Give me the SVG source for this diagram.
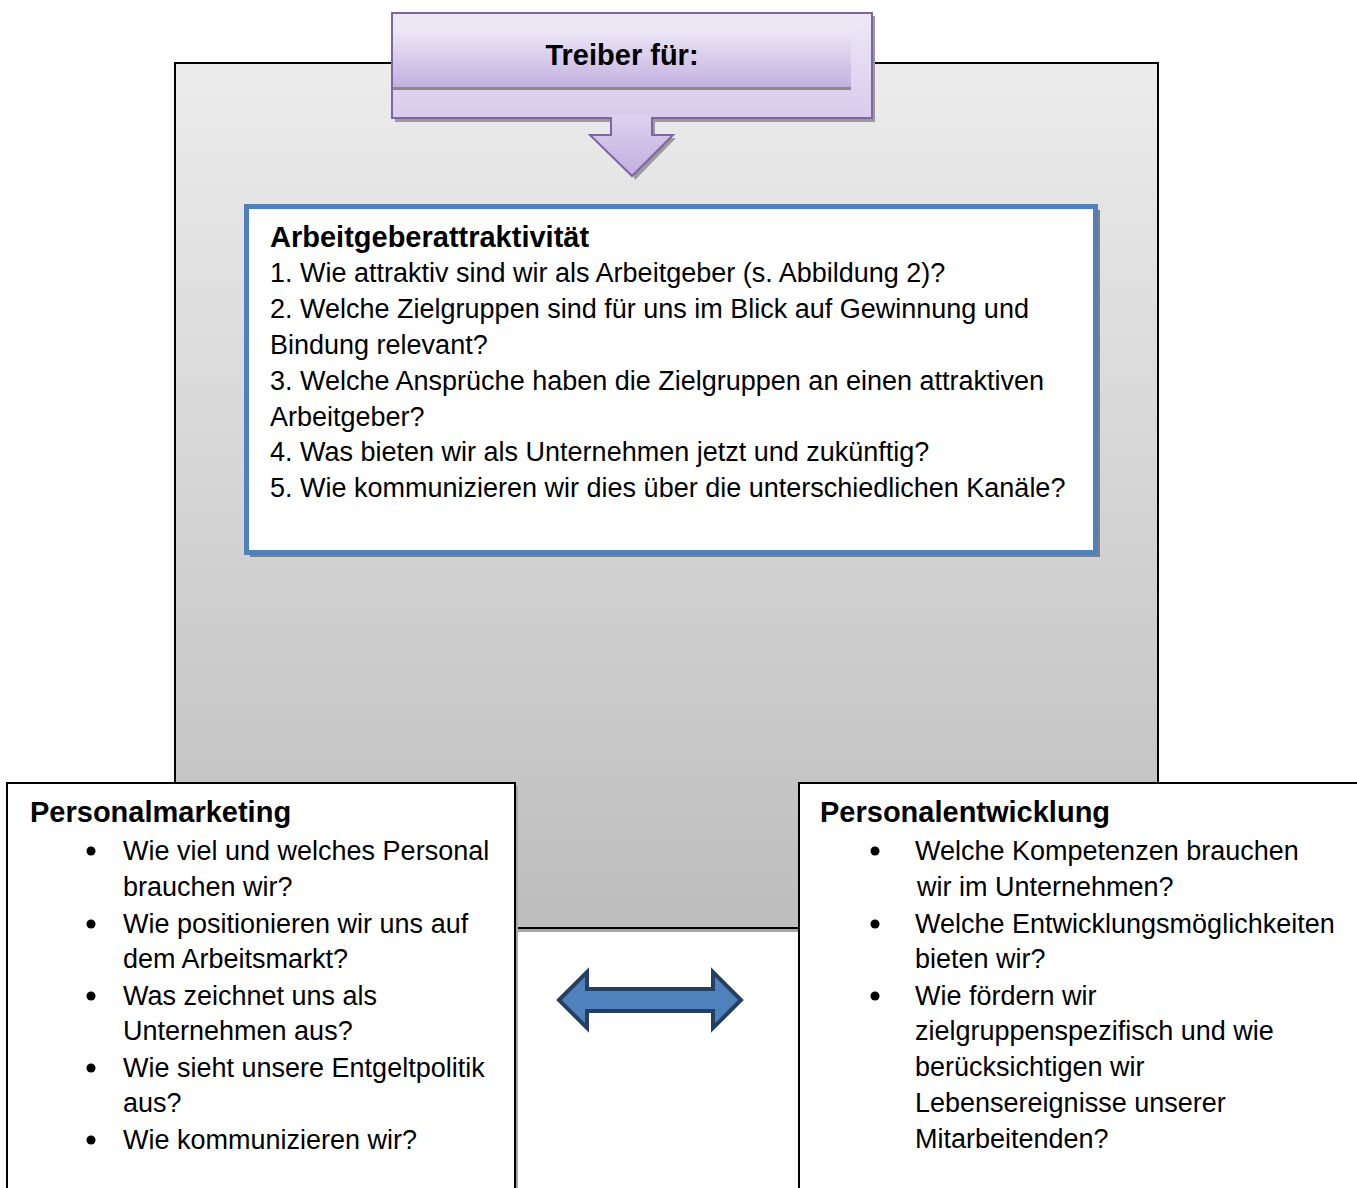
<svg xmlns="http://www.w3.org/2000/svg" width="1357" height="1188" viewBox="0 0 1357 1188">
<defs>
<linearGradient id="grayBg" x1="0" y1="0" x2="0" y2="1">
<stop offset="0" stop-color="#ececec"/>
<stop offset="1" stop-color="#bdbdbd"/>
</linearGradient>
<linearGradient id="purpleBand" x1="0" y1="0" x2="0" y2="1">
<stop offset="0" stop-color="#efeaf7"/>
<stop offset="1" stop-color="#c3b0e0"/>
</linearGradient>
<linearGradient id="purpleBox" x1="0" y1="0" x2="0" y2="1">
<stop offset="0" stop-color="#eee9f6"/>
<stop offset="1" stop-color="#d8cbec"/>
</linearGradient>
<linearGradient id="purpleArrow" x1="0" y1="0" x2="0" y2="1">
<stop offset="0" stop-color="#dcd0ee"/>
<stop offset="1" stop-color="#c2aee0"/>
</linearGradient>
</defs>
<style>
text{font-family:"Liberation Sans",Arial,sans-serif;font-size:27px;fill:#000}
.b{font-weight:bold;font-size:29px}
.frame{fill:#fff;stroke:#000;stroke-width:2}
.shadow{fill:#a6a6a6}
.dot{fill:#000}
</style>
<rect width="1357" height="1188" fill="#fff"/>

<g id="background-panel">
<rect x="175" y="928" width="986" height="4" class="shadow"/>
<rect x="175" y="63" width="983" height="865" fill="url(#grayBg)" stroke="#000" stroke-width="2"/>
</g>

<g id="treiber-callout">
<rect x="395" y="16" width="480" height="106" fill="#9a9a9a"/>
<polygon points="614,122 655,122 655,138 676,138 635,180" fill="#9a9a9a"/>
<rect x="392" y="13" width="480" height="105" fill="url(#purpleBox)" stroke="#8064a2" stroke-width="2"/>
<rect x="393" y="27" width="458" height="60" fill="url(#purpleBand)"/>
<rect x="393" y="87" width="458" height="3" fill="#8a8a8a"/>
<polygon points="611,118 652,118 652,135 673,135 632,176 590,135 611,135" fill="url(#purpleArrow)" stroke="#8064a2" stroke-width="2"/>
<rect x="612" y="115" width="39" height="5" fill="#dcd0ee"/>
<text x="622" y="65" class="b" text-anchor="middle">Treiber für:</text>
</g>

<g id="arbeitgeberattraktivitaet">
<rect x="250" y="210" width="850" height="347" fill="#7f7f7f"/>
<rect x="246.5" y="206.5" width="849" height="346" fill="#fff" stroke="#4f81bd" stroke-width="5"/>
<text x="270" y="247" class="b">Arbeitgeberattraktivität</text>
<text x="270" y="282">1. Wie attraktiv sind wir als Arbeitgeber (s. Abbildung 2)?</text>
<text x="270" y="318">2. Welche Zielgruppen sind für uns im Blick auf Gewinnung und</text>
<text x="270" y="354">Bindung relevant?</text>
<text x="270" y="390">3. Welche Ansprüche haben die Zielgruppen an einen attraktiven</text>
<text x="270" y="426">Arbeitgeber?</text>
<text x="270" y="461">4. Was bieten wir als Unternehmen jetzt und zukünftig?</text>
<text x="270" y="497">5. Wie kommunizieren wir dies über die unterschiedlichen Kanäle?</text>
</g>

<g id="personalmarketing">
<rect x="10" y="786" width="508" height="410" class="shadow"/>
<rect x="7" y="783" width="508" height="410" class="frame"/>
<text x="30" y="822" class="b">Personalmarketing</text>
<circle cx="91" cy="851" r="4.5" class="dot"/>
<text x="123" y="860">Wie viel und welches Personal</text>
<text x="123" y="896">brauchen wir?</text>
<circle cx="91" cy="924" r="4.5" class="dot"/>
<text x="123" y="933">Wie positionieren wir uns auf</text>
<text x="123" y="968">dem Arbeitsmarkt?</text>
<circle cx="91" cy="996" r="4.5" class="dot"/>
<text x="123" y="1005">Was zeichnet uns als</text>
<text x="123" y="1040">Unternehmen aus?</text>
<circle cx="91" cy="1068" r="4.5" class="dot"/>
<text x="123" y="1077">Wie sieht unsere Entgeltpolitik</text>
<text x="123" y="1112">aus?</text>
<circle cx="91" cy="1140" r="4.5" class="dot"/>
<text x="123" y="1149">Wie kommunizieren wir?</text>
</g>

<g id="personalentwicklung">
<rect x="799" y="783" width="600" height="410" class="frame"/>
<text x="820" y="822" class="b">Personalentwicklung</text>
<circle cx="875" cy="851" r="4.5" class="dot"/>
<text x="915" y="860">Welche Kompetenzen brauchen</text>
<text x="917" y="896">wir im Unternehmen?</text>
<circle cx="875" cy="924" r="4.5" class="dot"/>
<text x="915" y="933">Welche Entwicklungsmöglichkeiten</text>
<text x="915" y="968">bieten wir?</text>
<circle cx="875" cy="996" r="4.5" class="dot"/>
<text x="915" y="1005">Wie fördern wir</text>
<text x="915" y="1040">zielgruppenspezifisch und wie</text>
<text x="915" y="1076">berücksichtigen wir</text>
<text x="915" y="1112">Lebensereignisse unserer</text>
<text x="915" y="1148">Mitarbeitenden?</text>
</g>

<g id="connectors">
<polygon points="559,1000 587,972 587,989 713,989 713,972 741,1000 713,1028 713,1011 587,1011 587,1028" fill="#4f81bd" stroke="#243f60" stroke-width="4" stroke-linejoin="miter"/>
</g>
</svg>
